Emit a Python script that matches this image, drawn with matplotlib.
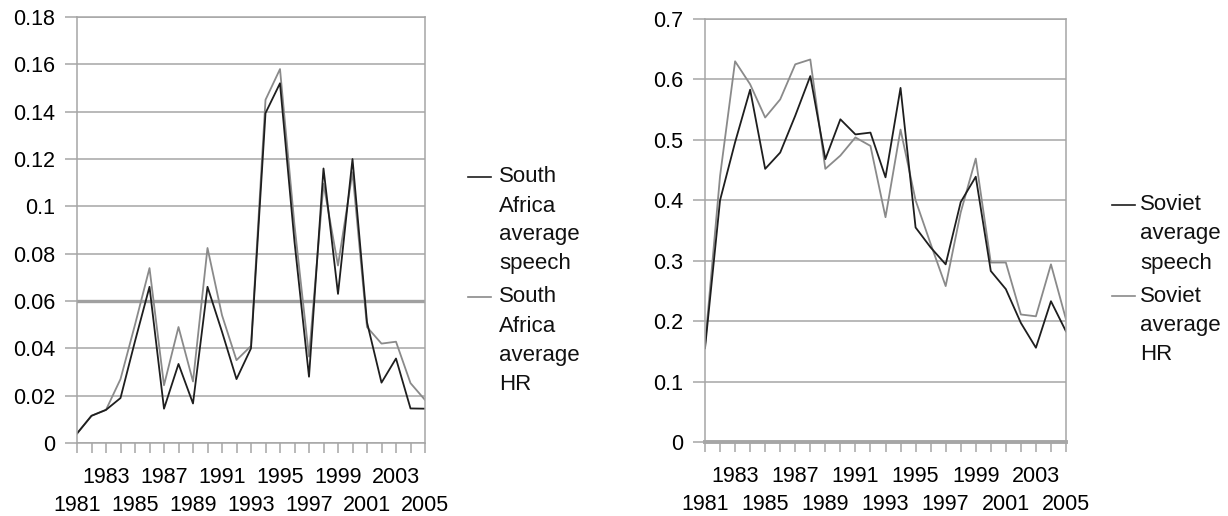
import numpy as np
import matplotlib
matplotlib.use("Agg")
import matplotlib.pyplot as plt
from matplotlib.lines import Line2D

plt.rcParams['font.family'] = ['Liberation Sans', 'DejaVu Sans']

years = list(range(1981, 2006))

sa_speech = [0.004, 0.0115, 0.014, 0.019, 0.043, 0.066, 0.0145, 0.0334, 0.0167, 0.066,
             0.047, 0.027, 0.040, 0.1394, 0.152, 0.085, 0.028, 0.116, 0.063, 0.120,
             0.051, 0.0255, 0.0357, 0.0146, 0.0145]
sa_hr = [0.004, 0.0115, 0.014, 0.027, 0.050, 0.0739, 0.0244, 0.049, 0.026, 0.0824,
         0.054, 0.035, 0.041, 0.145, 0.158, 0.092, 0.0365, 0.1095, 0.075, 0.1144,
         0.049, 0.042, 0.0428, 0.0253, 0.0182]

sov_speech = [0.155, 0.40, 0.496, 0.583, 0.452, 0.479, 0.540, 0.6055, 0.468, 0.534,
              0.509, 0.512, 0.438, 0.586, 0.355, 0.322, 0.294, 0.397, 0.439, 0.283,
              0.253, 0.197, 0.156, 0.233, 0.183]
sov_hr = [0.16, 0.44, 0.630, 0.592, 0.537, 0.567, 0.625, 0.633, 0.452, 0.474,
          0.504, 0.49, 0.372, 0.517, 0.40, 0.328, 0.258, 0.38, 0.469, 0.297,
          0.297, 0.211, 0.208, 0.294, 0.203]

sa_labels = ["South\nAfrica\naverage\nspeech", "South\nAfrica\naverage\nHR"]
sov_labels = ["Soviet\naverage\nspeech", "Soviet\naverage\nHR"]

sa_yticks = [0, 0.02, 0.04, 0.06, 0.08, 0.1, 0.12, 0.14, 0.16, 0.18]
sov_yticks = [0, 0.1, 0.2, 0.3, 0.4, 0.5, 0.6, 0.7]

W, H = 1228, 516
GRID = '#a6a6a6'
DARK = '#1e1e1e'
LIGHT = '#8a8a8a'
FS = 15.5

fig = plt.figure(figsize=(W / 100, H / 100), dpi=100)


def px_box(x0, y0, x1, y1):
    return [x0 / W, 1 - y1 / H, (x1 - x0) / W, (y1 - y0) / H]


def style_axis(ax, yticks, ytext):
    ax.set_xlim(years[0], years[-1])
    ax.set_ylim(yticks[0], yticks[-1])
    ax.set_yticks(yticks)
    ax.set_yticklabels(ytext)
    # bottom row of year labels on major ticks, top row on minor ticks
    major = years[0::4]
    minor = [y for y in years if y not in major]
    ax.set_xticks(major)
    ax.set_xticklabels([str(y) for y in major])
    ax.set_xticks(minor, minor=True)
    ax.set_xticklabels([str(y) if (y - years[0]) % 4 == 2 else "" for y in minor], minor=True)
    ax.yaxis.grid(True, color=GRID, lw=1.1)
    ax.set_axisbelow(True)
    for s in ax.spines.values():
        s.set_color(GRID)
        s.set_linewidth(1.1)
    ax.tick_params(axis='y', length=8.5, width=1.1, color=GRID, pad=7, labelsize=FS)
    ax.tick_params(axis='x', which='minor', length=7, width=1.1, color=GRID, pad=10, labelsize=FS)
    ax.tick_params(axis='x', which='major', length=7, width=1.1, color=GRID, pad=30.5, labelsize=FS)


def draw_legend(labels, colors, x_line, x_text, y_first, pitch=29, gap=33):
    y = y_first
    for lab, c in zip(labels, colors):
        fig.add_artist(Line2D([x_line / W, (x_line + 23) / W], [1 - y / H, 1 - y / H],
                              color=c, lw=1.2, transform=fig.transFigure))
        lines = lab.split("\n")
        for k, ln in enumerate(lines):
            fig.text(x_text / W, 1 - (y + k * pitch) / H, ln, fontsize=16,
                     va='center', ha='left', color='#111111')
        y += (len(lines) - 1) * pitch + gap


# left chart
ax1 = fig.add_axes(px_box(77, 17, 425, 443))
style_axis(ax1, sa_yticks, ["0", "0.02", "0.04", "0.06", "0.08", "0.1",
                            "0.12", "0.14", "0.16", "0.18"])
ax1.axhline(0.06, color='#a0a0a0', lw=2.4, zorder=0.6)
ax1.plot(years, sa_hr, color=LIGHT, lw=1.3, label=sa_labels[1])
ax1.plot(years, sa_speech, color=DARK, lw=1.3, label=sa_labels[0])
draw_legend(sa_labels, [DARK, LIGHT], 468, 499, 177)

# right chart
ax2 = fig.add_axes(px_box(705, 19, 1066, 442))
style_axis(ax2, sov_yticks, ["0", "0.1", "0.2", "0.3", "0.4", "0.5", "0.6", "0.7"])
ax2.spines['bottom'].set_linewidth(2.8)
ax2.plot(years, sov_hr, color=LIGHT, lw=1.3, label=sov_labels[1])
ax2.plot(years, sov_speech, color=DARK, lw=1.3, label=sov_labels[0])
draw_legend(sov_labels, [DARK, LIGHT], 1112, 1140, 205)

fig.savefig("out.png", dpi=100, facecolor='white')
